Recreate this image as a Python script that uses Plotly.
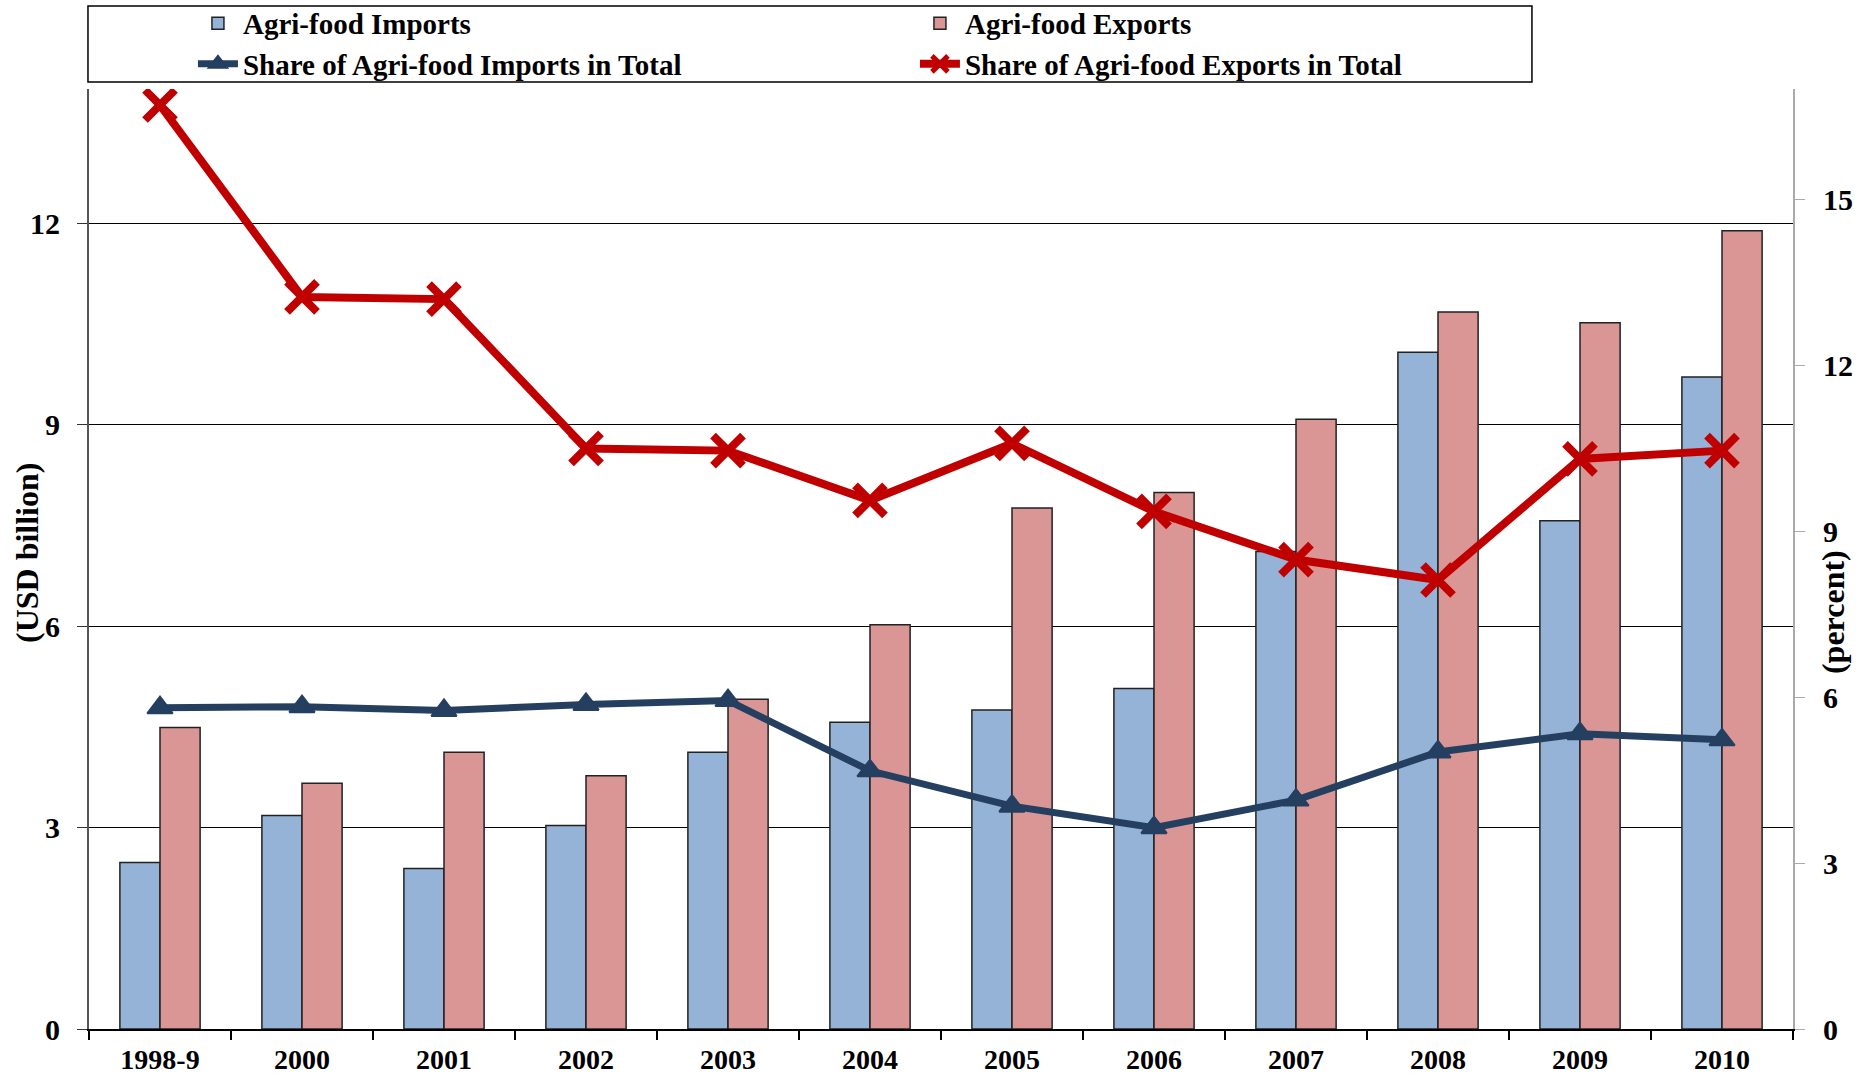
import plotly.graph_objects as go

years = ["1998-9", "2000", "2001", "2002", "2003", "2004", "2005", "2006", "2007", "2008", "2009", "2010"]
imports_usd = [2.48, 3.18, 2.39, 3.03, 4.12, 4.57, 4.75, 5.07, 7.11, 10.08, 7.57, 9.71]
exports_usd = [4.49, 3.66, 4.12, 3.77, 4.91, 6.02, 7.76, 7.99, 9.08, 10.68, 10.52, 11.89]
share_imports = [5.81, 5.83, 5.76, 5.87, 5.94, 4.67, 4.03, 3.64, 4.14, 5.01, 5.34, 5.23]
share_exports = [16.71, 13.24, 13.20, 10.50, 10.46, 9.56, 10.59, 9.36, 8.49, 8.12, 10.31, 10.46]

FONT = "Liberation Serif, Times New Roman, Times, serif"
NAVY = "#243F60"
RED = "#C00000"

fig = go.Figure()
fig.add_trace(go.Bar(x=years, y=imports_usd, name="Agri-food Imports",
                     marker=dict(color="#95B3D7", line=dict(color="#222222", width=1.5))))
fig.add_trace(go.Bar(x=years, y=exports_usd, name="Agri-food Exports",
                     marker=dict(color="#D99694", line=dict(color="#222222", width=1.5))))
fig.add_trace(go.Scatter(x=years, y=share_imports, name="Share of Agri-food Imports in Total",
                         yaxis="y2", mode="lines+markers",
                         line=dict(color=NAVY, width=7),
                         marker=dict(symbol="triangle-up", size=22, color=NAVY,
                                     line=dict(color=NAVY, width=2))))
fig.add_trace(go.Scatter(x=years, y=share_exports, name="Share of Agri-food Exports in Total",
                         yaxis="y2", mode="lines+markers",
                         line=dict(color=RED, width=8),
                         marker=dict(symbol="x-thin", size=30, color=RED,
                                     line=dict(color=RED, width=8))))

fig.update_layout(
    width=1857, height=1078,
    margin=dict(l=89, r=64, t=89, b=49, autoexpand=False),
    paper_bgcolor="white", plot_bgcolor="white",
    font=dict(family=FONT, size=30, color="black", weight="bold"),
    barmode="group", bargap=0.435, bargroupgap=0,
    showlegend=True,
    legend=dict(orientation="h", x=0.061, y=1.097, xanchor="left", yanchor="top",
                entrywidth=667, entrywidthmode="pixels",
                bgcolor="rgba(0,0,0,0)", font=dict(family=FONT, size=29, weight="bold"),
                tracegroupgap=0, itemwidth=40, traceorder="normal"),
    xaxis=dict(type="category", range=[-0.5, 11.5], showline=True, linecolor="black",
               linewidth=1.5, ticks="outside", tickson="boundaries", ticklen=9,
               tickcolor="black", tickwidth=1.5, showgrid=False,
               tickfont=dict(family=FONT, size=28, weight="bold"), ticklabelstandoff=5),
    yaxis=dict(range=[0, 14], tickvals=[0, 3, 6, 9, 12], showline=True,
               linecolor="#555555", linewidth=2, ticks="outside", ticklen=10,
               tickcolor="#333333", showgrid=True, gridcolor="black", gridwidth=1.2,
               zeroline=False, tickfont=dict(family=FONT, size=30, weight="bold"),
               ticklabelstandoff=11),
    yaxis2=dict(range=[0, 17], tickvals=[0, 3, 6, 9, 12, 15], overlaying="y", side="right",
                showline=True, linecolor="#aaaaaa", linewidth=2, ticks="outside",
                ticklen=10, tickcolor="#aaaaaa", showgrid=False, zeroline=False,
                tickfont=dict(family=FONT, size=30, weight="bold"), ticklabelstandoff=12),
    shapes=[dict(type="rect", xref="paper", yref="paper", x0=-0.0006, x1=0.8468,
                 y0=1.0074, y1=1.0883, line=dict(color="black", width=1.5),
                 fillcolor="rgba(0,0,0,0)")],
    annotations=[
        dict(text="(USD billion)", xref="paper", yref="paper", x=-0.036, y=0.506,
             xanchor="center", yanchor="middle",
             textangle=-90, showarrow=False, font=dict(family=FONT, size=32, weight="bold")),
        dict(text="(percent)", xref="paper", yref="paper", x=1.0235, y=0.4436,
             xanchor="center", yanchor="middle",
             textangle=-90, showarrow=False, font=dict(family=FONT, size=32, weight="bold")),
    ],
)

fig.write_html("out.html", config={"displayModeBar": False},
               post_script="document.body.style.margin='0px';document.body.style.overflow='hidden';")
